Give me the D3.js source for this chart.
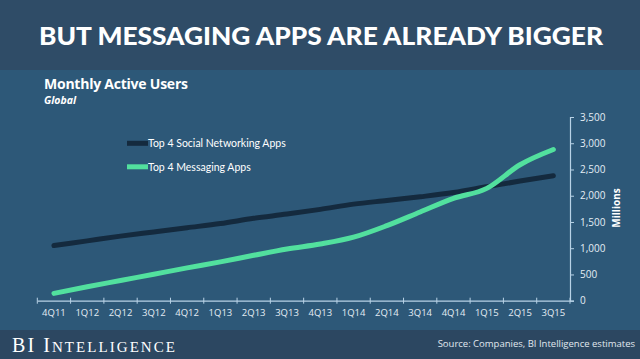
<!DOCTYPE html>
<html>
<head>
<meta charset="utf-8">
<script src="https://cdn.jsdelivr.net/npm/d3@7"></script>
<style>
  body { margin: 0; background: #2d5878; }
  svg { display: block; }
</style>
</head>
<body>
<script>
const width = 640;
const height = 359;

// data
const quarters = ["4Q11", "1Q12", "2Q12", "3Q12", "4Q12", "1Q13", "2Q13", "3Q13",
                  "4Q13", "1Q14", "2Q14", "3Q14", "4Q14", "1Q15", "2Q15", "3Q15"];
const socialValues = [1050, 1140, 1230, 1310, 1390, 1470, 1570, 1650,
                      1740, 1840, 1910, 1980, 2060, 2170, 2280, 2380];
const messagingValues = [140, 265, 385, 505, 625, 740, 865, 985,
                         1080, 1210, 1430, 1690, 1950, 2140, 2590, 2880];
const yTicks = [0, 500, 1000, 1500, 2000, 2500, 3000, 3500];
const seriesNames = ["Top 4 Social Networking Apps", "Top 4 Messaging Apps"];
const seriesColors = ["#142a3e", "#52e09e"];

const svg = d3.select("body")
    .append("svg")
    .attr("width", width)
    .attr("height", height);

// background bands
svg.append("rect").attr("x", 0).attr("y", 0).attr("width", width).attr("height", 70).attr("fill", "#2f4c67");
svg.append("rect").attr("x", 0).attr("y", 70).attr("width", width).attr("height", 260).attr("fill", "#2d5878");
svg.append("rect").attr("x", 0).attr("y", 330).attr("width", width).attr("height", 29).attr("fill", "#2c4761");

svg.append("text")
    .attr("x", 321).attr("y", 45)
    .attr("text-anchor", "middle")
    .attr("font-family", "Lato")
    .attr("font-weight", 900)
    .attr("font-size", 24)
    .attr("textLength", 564)
    .attr("lengthAdjust", "spacingAndGlyphs")
    .attr("fill", "#ffffff")
    .text("BUT MESSAGING APPS ARE ALREADY BIGGER");

svg.append("text")
    .attr("x", 44).attr("y", 89)
    .attr("font-family", "Open Sans")
    .attr("font-weight", 700)
    .attr("font-size", 14)
    .attr("textLength", 144)
    .attr("fill", "#ffffff")
    .text("Monthly Active Users");

svg.append("text")
    .attr("x", 44).attr("y", 104)
    .attr("font-family", "Open Sans")
    .attr("font-weight", 700)
    .attr("font-style", "italic")
    .attr("font-size", 10.5)
    .attr("fill", "#ffffff")
    .text("Global");

// scales
const x = d3.scaleBand()
    .domain(quarters)
    .range([37.3, 570]);

const y = d3.scaleLinear()
    .domain([0, 3500])
    .range([300.7, 117]);

// x axis
const xAxis = svg.append("g")
    .attr("transform", "translate(0,300.7)")
    .call(d3.axisBottom(x).tickSize(0).tickPadding(9));
xAxis.select(".domain").attr("stroke", "#b8d2e6").attr("stroke-width", 1.2);
xAxis.selectAll("text")
    .attr("font-family", "Open Sans")
    .attr("font-size", 9.5)
    .attr("fill", "#e4edf4");

xAxis.selectAll(".sep")
    .data(d3.range(quarters.length + 1))
    .enter()
    .append("line")
    .attr("class", "sep")
    .attr("x1", i => x.range()[0] + i * x.step())
    .attr("x2", i => x.range()[0] + i * x.step())
    .attr("y1", -3)
    .attr("y2", 3)
    .attr("stroke", "#b8d2e6");

// y axis on the right
const yAxis = svg.append("g")
    .attr("transform", "translate(570,0)")
    .call(d3.axisRight(y).tickValues(yTicks).tickSize(4).tickPadding(6).tickFormat(d3.format(",")));
yAxis.select(".domain").attr("stroke", "#b8d2e6").attr("stroke-width", 1.2);
yAxis.selectAll(".tick line").attr("stroke", "#b8d2e6");
yAxis.selectAll("text")
    .attr("font-family", "Open Sans")
    .attr("font-size", 10)
    .attr("fill", "#e4edf4");

svg.append("text")
    .attr("transform", "translate(620,208) rotate(-90)")
    .attr("text-anchor", "middle")
    .attr("font-family", "Open Sans")
    .attr("font-weight", 700)
    .attr("font-size", 10)
    .attr("fill", "#ffffff")
    .text("Millions");

// lines
const line = d3.line()
    .x((d, i) => x(quarters[i]) + x.bandwidth() / 2)
    .y(d => y(d))
    .curve(d3.curveMonotoneX);

[socialValues, messagingValues].forEach(function (vals, k) {
    svg.append("path")
        .datum(vals)
        .attr("d", line)
        .attr("fill", "none")
        .attr("stroke", seriesColors[k])
        .attr("stroke-width", 5)
        .attr("stroke-linecap", "round")
        .attr("stroke-linejoin", "round");
});

// legend
const legend = svg.append("g")
    .selectAll("g")
    .data(seriesNames)
    .enter()
    .append("g")
    .attr("transform", (d, i) => `translate(127,${143.3 + i * 23.5})`);

legend.append("line")
    .attr("x1", 0).attr("x2", 21)
    .attr("y1", 0).attr("y2", 0)
    .attr("stroke", (d, i) => seriesColors[i])
    .attr("stroke-width", 5);

legend.append("text")
    .attr("x", 21).attr("y", 4)
    .attr("font-family", "Lato")
    .attr("font-size", 10.5)
    .attr("fill", "#ffffff")
    .text(d => d);

// footer
const brand = svg.append("text")
    .attr("x", 12).attr("y", 352)
    .attr("font-family", "Liberation Serif")
    .attr("fill", "#ffffff")
    .attr("textLength", 163)
    .attr("lengthAdjust", "spacing");
brand.append("tspan").attr("font-size", 20).text("BI I");
brand.append("tspan").attr("font-size", 15).text("NTELLIGENCE");

svg.append("text")
    .attr("x", 635).attr("y", 347)
    .attr("text-anchor", "end")
    .attr("font-family", "Open Sans")
    .attr("font-size", 9.5)
    .attr("fill", "#e0e8ef")
    .text("Source: Companies, BI Intelligence estimates");
</script>
</body>
</html>
